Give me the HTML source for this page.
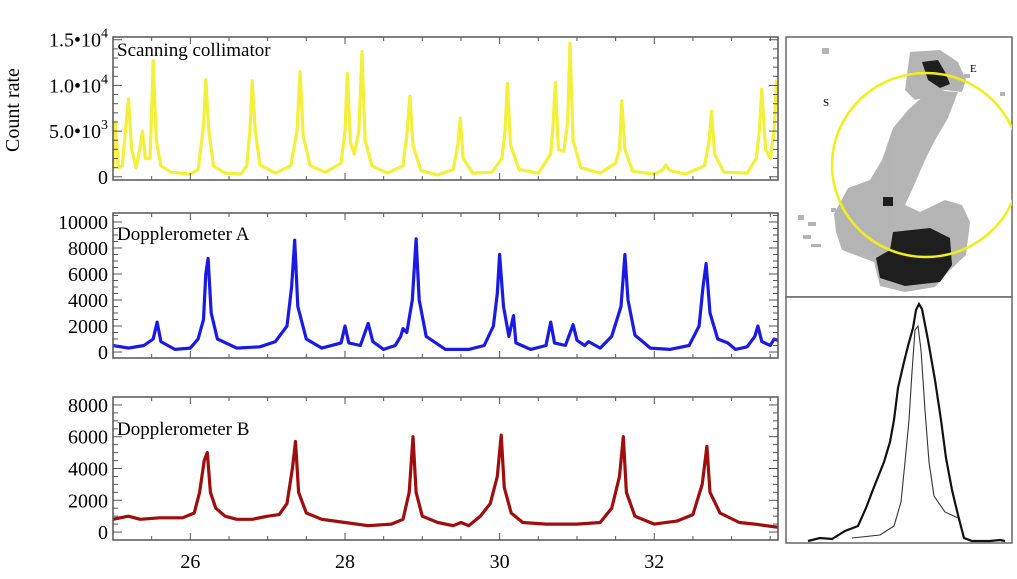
<!DOCTYPE html>
<html><head><meta charset="utf-8"><style>
html,body{margin:0;padding:0;background:#fff;}
svg{display:block;font-family:"Liberation Serif",serif;}
</style></head><body>
<svg id="fig" width="1017" height="579" viewBox="0 0 1017 579" xmlns="http://www.w3.org/2000/svg">
<defs><clipPath id="imgclip"><rect x="786" y="37" width="226" height="260"/></clipPath></defs>
<g id="panels"></g>
<g id="right">
  <rect x="786" y="37" width="226" height="260" fill="#fff" stroke="#666" stroke-width="1.5"/>
  <g clip-path="url(#imgclip)">
  <g fill="#a8a8a8" opacity="0.85">
    <path d="M910,52 L940,50 L958,62 L966,80 L962,92 L945,90 L930,96 L915,100 L905,90 Z"/>
    <path d="M930,90 L958,92 L948,118 L935,140 L925,160 L912,190 L905,205 L920,212 L945,200 L962,205 L970,222 L966,255 L950,270 L935,287 L905,292 L880,286 L874,262 L858,256 L842,250 L836,232 L834,214 L848,188 L870,180 L882,160 L893,128 L908,110 Z"/>
    <rect x="822" y="48" width="7" height="6"/><rect x="798" y="215" width="6" height="5"/><rect x="808" y="222" width="8" height="4"/><rect x="803" y="235" width="8" height="4"/><rect x="811" y="244" width="10" height="3"/><rect x="964" y="74" width="6" height="4"/><rect x="1000" y="92" width="5" height="4"/><rect x="831" y="208" width="5" height="4"/>
  </g>
  <g fill="#1e1e1e">
    <path d="M922,62 L938,60 L945,72 L950,84 L940,88 L928,80 Z"/>
    <path d="M893,232 L930,228 L950,238 L952,265 L940,282 L905,286 L880,278 L876,258 L890,250 Z"/>
    <rect x="883" y="197" width="10" height="9"/>
  </g>
  <text x="970" y="72" font-size="11">E</text>
  <text x="823" y="106" font-size="11">S</text>
  <ellipse cx="926" cy="165" rx="94" ry="92" fill="none" stroke="#f2ee1a" stroke-width="2.5"/>
  </g>
  <rect x="786" y="297" width="226" height="246" fill="#fff" stroke="#666" stroke-width="1.5"/>
  <polyline fill="none" stroke="#111" stroke-width="2.2" points="808,541 820,538 832,539 845,531 858,526 866,508 874,487 884,462 890,442 894,420 898,388 904,362 908,346 913,328 916,310 919,304 922,309 928,340 935,380 941,420 946,458 952,490 958,515 964,538 972,541 990,541 1000,540 1005,541"/>
  <polyline fill="none" stroke="#333" stroke-width="1.1" points="852,538 880,535 894,526 901,502 905,462 909,420 912,372 915,330 918,326 921,350 925,410 929,462 934,496 945,512 958,518"/>
</g>
</svg>
<script>
// ---- Data ----
const xTicks = [26, 28, 30, 32];
const topX = [25.0,25.03,25.07,25.12,25.16,25.2,25.24,25.3,25.35,25.38,25.42,25.48,25.52,25.56,25.62,25.75,26.0,26.1,26.17,26.2,26.24,26.3,26.45,26.65,26.73,26.77,26.8,26.84,26.9,27.1,27.3,27.38,27.42,27.46,27.55,27.75,27.95,28.0,28.03,28.07,28.12,28.18,28.22,28.26,28.35,28.55,28.75,28.8,28.84,28.88,28.98,29.2,29.4,29.46,29.49,29.53,29.65,29.9,30.03,30.07,30.1,30.14,30.25,30.5,30.66,30.69,30.72,30.76,30.83,30.88,30.91,30.95,31.05,31.3,31.5,31.55,31.58,31.62,31.72,32.0,32.1,32.15,32.2,32.4,32.65,32.71,32.74,32.78,32.9,33.2,33.32,33.36,33.39,33.44,33.5,33.55,33.58,33.6];
const topY = [800,6000,1000,1200,5000,8500,3000,1000,3200,5000,2000,2000,12700,4000,1200,500,300,800,5500,10600,5000,1200,400,300,1200,5000,10500,5000,1300,400,1200,5000,11500,4500,1200,500,1500,5000,11300,3800,2500,5000,13700,4000,1200,400,1200,4500,8800,3500,700,200,800,3500,6400,2000,400,500,2000,5000,10200,3500,800,400,2500,5500,10300,3000,2800,6000,14600,4000,1000,400,1500,3000,8300,3000,600,300,700,1300,700,300,1200,4000,7200,2500,500,400,2000,5000,9600,3000,2000,5000,10500,10500];
const blueX = [25.0,25.2,25.4,25.52,25.57,25.62,25.8,26.0,26.1,26.17,26.2,26.23,26.27,26.35,26.6,26.9,27.1,27.25,27.31,27.35,27.39,27.5,27.7,27.95,28.0,28.05,28.2,28.3,28.36,28.5,28.65,28.72,28.75,28.8,28.87,28.92,28.96,29.05,29.3,29.6,29.8,29.92,29.97,30.0,30.05,30.12,30.18,30.21,30.4,30.6,30.66,30.71,30.85,30.95,31.0,31.1,31.15,31.3,31.45,31.57,31.62,31.66,31.75,31.95,32.2,32.45,32.58,32.63,32.67,32.72,32.82,32.95,33.05,33.2,33.3,33.34,33.39,33.5,33.55,33.6];
const blueY = [500,300,500,1000,2300,800,200,300,1000,2500,6000,7200,3000,1000,300,400,800,2000,5000,8600,3500,1000,300,700,2000,700,500,2200,800,200,500,1200,1800,1500,4000,8700,4000,1200,200,200,500,2000,4500,7500,3500,1200,2800,700,200,500,2300,700,500,2100,900,500,800,300,1200,3500,7500,4000,1300,300,200,500,2000,5000,6800,3000,1000,700,200,400,1200,2000,800,500,1000,900];
const redX = [25.0,25.2,25.35,25.6,25.9,26.05,26.12,26.18,26.22,26.26,26.33,26.45,26.6,26.8,27.0,27.15,27.25,27.32,27.36,27.4,27.5,27.7,28.0,28.3,28.6,28.75,28.83,28.88,28.92,29.0,29.2,29.4,29.5,29.6,29.75,29.88,29.97,30.02,30.06,30.15,30.3,30.6,30.8,31.0,31.3,31.45,31.55,31.6,31.64,31.75,32.0,32.3,32.5,32.62,32.68,32.72,32.85,33.1,33.3,33.6];
const redY = [800,1000,800,900,900,1200,2500,4500,5000,2500,1500,1000,800,800,1000,1100,1800,4000,5700,2500,1200,800,600,400,500,800,2500,6000,2500,1000,600,400,600,400,1000,1800,3500,6100,2800,1200,600,500,500,500,600,1500,3500,6000,2500,1000,500,700,1100,3000,5400,2500,1200,600,500,300];
const topTickVals = [0, 5000, 10000, 15000];
const topTickLabels = ['0', '5.0•10', '1.0•10', '1.5•10'];
const topTickExp = ['', '3', '4', '4'];
const blueTickVals = [0, 2000, 4000, 6000, 8000, 10000];
const redTickVals = [0, 2000, 4000, 6000, 8000];

const NS = 'http://www.w3.org/2000/svg';
const X0 = 113, X1 = 778, XMIN = 25, XMAX = 33.6;
function sx(v) { return X0 + (v - XMIN) / (XMAX - XMIN) * (X1 - X0); }
function mk(tag, attrs, parent) {
  const e = document.createElementNS(NS, tag);
  for (const k in attrs) e.setAttribute(k, attrs[k]);
  parent.appendChild(e);
  return e;
}
const root = document.getElementById('panels');

function panel(cfg) {
  const g = mk('g', {}, root);
  
  
  const sy = v => cfg.yb + (v - cfg.ymin) / (cfg.ymax - cfg.ymin) * (cfg.yt - cfg.yb);
  let pts = [];
  for (let i = 0; i < cfg.xs.length; i++) pts.push(sx(cfg.xs[i]).toFixed(1) + ',' + sy(cfg.ys[i]).toFixed(1));
  const clip = mk('clipPath', { id: 'c-' + cfg.name }, g);
  mk('rect', { x: X0, y: cfg.yt, width: X1 - X0, height: cfg.yb - cfg.yt }, clip);
  const line = mk('polyline', { points: pts.join(' '), fill: 'none', stroke: cfg.color, 'stroke-width': 3.2, 'stroke-linejoin': 'round', 'clip-path': 'url(#c-' + cfg.name + ')' }, g);
  
  
  const fr = mk('rect', { x: X0, y: cfg.yt, width: X1 - X0, height: cfg.yb - cfg.yt, fill: 'none', stroke: '#555', 'stroke-width': 1.5 }, g);
  
  
  for (let v = 25; v <= 33.5; v += 0.5) {
    const major = Math.abs(v - Math.round(v / 2) * 2) < 1e-6;
    const len = major ? 7 : 4;
    const px = sx(v);
    mk('line', { x1: px, x2: px, y1: cfg.yb, y2: cfg.yb - len, stroke: '#555', 'stroke-width': 1 }, g);
    mk('line', { x1: px, x2: px, y1: cfg.yt, y2: cfg.yt + len, stroke: '#555', 'stroke-width': 1 }, g);
  }
  const step = cfg.ticks[1] - cfg.ticks[0];
  const minor = step / cfg.nminor;
  for (let v = cfg.ticks[0]; v <= cfg.ymax + 1e-6; v += minor) {
    const py = sy(v);
    const major = Math.abs(v / step - Math.round(v / step)) < 1e-6;
    const len = major ? 9 : 5;
    mk('line', { x1: X0, x2: X0 + len, y1: py, y2: py, stroke: '#555', 'stroke-width': 1 }, g);
    mk('line', { x1: X1, x2: X1 - len, y1: py, y2: py, stroke: '#555', 'stroke-width': 1 }, g);
  }
  cfg.ticks.forEach((v, i) => {
    const t = mk('text', { x: 108, y: sy(v) + 7, 'text-anchor': 'end', 'font-size': 20 }, g);
    
    
    if (cfg.labels) {
      t.textContent = cfg.labels[i];
      if (cfg.exps[i]) {
        const s = mk('tspan', { dy: -9, 'font-size': 14 }, t);
        s.textContent = cfg.exps[i];
      }
    } else t.textContent = String(v);
  });
  const title = mk('text', { x: 117, y: cfg.yt + cfg.titleDy, 'font-size': 19 }, g);
  
  
  title.textContent = cfg.title;
}

panel({ name: 'scanning-collimator', xs: topX, ys: topY, color: '#f4f03a', yt: 37, yb: 180, ymin: -350, ymax: 15300, ticks: topTickVals, labels: topTickLabels, exps: topTickExp, nminor: 5, title: 'Scanning collimator', titleDy: 19 });
panel({ name: 'dopplerometer-a', xs: blueX, ys: blueY, color: '#1a1ae6', yt: 213, yb: 358, ymin: -460, ymax: 10690, ticks: blueTickVals, nminor: 4, title: 'Dopplerometer A', titleDy: 27 });
panel({ name: 'dopplerometer-b', xs: redX, ys: redY, color: '#a00d0d', yt: 397, yb: 540, ymin: -500, ymax: 8500, ticks: redTickVals, nminor: 4, title: 'Dopplerometer B', titleDy: 38 });

xTicks.forEach(v => {
  const t = mk('text', { x: sx(v), y: 568, 'text-anchor': 'middle', 'font-size': 20 }, root);
  
  
  t.textContent = String(v);
});
const yl = mk('text', { x: 0, y: 0, 'text-anchor': 'middle', 'font-size': 20, transform: 'translate(19,110) rotate(-90)' }, root);


yl.textContent = 'Count rate';
</script>
</body></html>
